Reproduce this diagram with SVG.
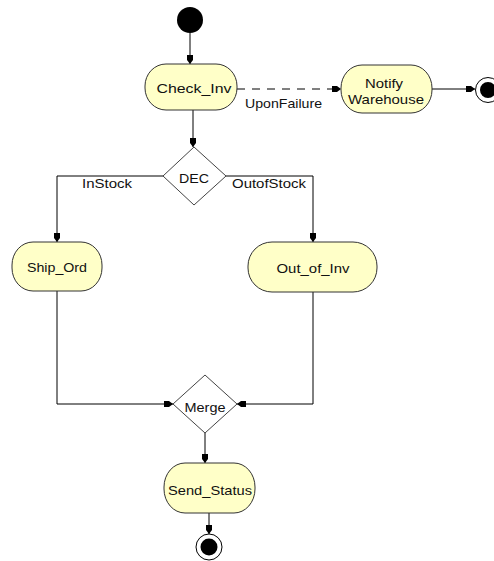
<svg xmlns="http://www.w3.org/2000/svg" width="494" height="561" viewBox="0 0 494 561">
<style>
.act{fill:#FFFFC8;stroke:#333;stroke-width:1}
.dia{fill:#fff;stroke:#444;stroke-width:1}
.t{font-family:"Liberation Sans",Arial,sans-serif;font-size:13px;fill:#111;text-anchor:middle}
.c{fill:none;stroke:#000;stroke-width:1}
</style>
<defs>
<marker id="ah" markerUnits="userSpaceOnUse" markerWidth="12" markerHeight="8" viewBox="-10 -4 10 8" refX="0" refY="0" orient="auto">
<path d="M0,0 L-4,-3 L-9,-3 L-9,3 L-4,3 Z" fill="#000"/>
</marker>
</defs>
<rect width="494" height="561" fill="#fff"/>
<g id="connectors">
<path class="c" d="M190,33 L190,64" marker-end="url(#ah)"/>
<path class="c" d="M237,89 L341,89" stroke-dasharray="8,7" marker-end="url(#ah)"/>
<path class="c" d="M432,89 L475,89" marker-end="url(#ah)"/>
<path class="c" d="M193,110 L193,147" marker-end="url(#ah)"/>
<path class="c" d="M163,176 L57,176 L57,242" marker-end="url(#ah)"/>
<path class="c" d="M226,176 L313,176 L313,242" marker-end="url(#ah)"/>
<path class="c" d="M57,291 L57,404 L173,404" marker-end="url(#ah)"/>
<path class="c" d="M313,292 L313,404 L237,404" marker-end="url(#ah)"/>
<path class="c" d="M205,433 L205,463" marker-end="url(#ah)"/>
<path class="c" d="M209,513 L209,534" marker-end="url(#ah)"/>
<text class="t" x="283.5" y="108" textLength="77" lengthAdjust="spacingAndGlyphs">UponFailure</text>
<text class="t" x="107" y="188" textLength="50" lengthAdjust="spacingAndGlyphs">InStock</text>
<text class="t" x="269" y="188" textLength="74" lengthAdjust="spacingAndGlyphs">OutofStock</text>
</g>
<g id="start"><circle cx="190" cy="20" r="13" fill="#000"/></g>
<g id="Check_Inv">
<rect class="act" x="145" y="64" width="92" height="46" rx="21" ry="22"/>
<text class="t" x="194" y="93" textLength="75" lengthAdjust="spacingAndGlyphs">Check_Inv</text>
</g>
<g id="Notify_Warehouse">
<rect class="act" x="341" y="65" width="91" height="48" rx="21" ry="23"/>
<text class="t" x="384" y="88" textLength="38" lengthAdjust="spacingAndGlyphs">Notify</text>
<text class="t" x="386" y="104" textLength="76" lengthAdjust="spacingAndGlyphs">Warehouse</text>
</g>
<g id="end1">
<circle cx="488" cy="90" r="12.5" fill="#fff" stroke="#000" stroke-width="1"/>
<circle cx="488" cy="90" r="8" fill="#000"/>
</g>
<g id="DEC">
<polygon class="dia" points="194,147 226,176 194,205 163,176"/>
<text class="t" x="194" y="183" textLength="30" lengthAdjust="spacingAndGlyphs">DEC</text>
</g>
<g id="Ship_Ord">
<rect class="act" x="12" y="242" width="90" height="49" rx="21" ry="23"/>
<text class="t" x="57" y="272" textLength="60" lengthAdjust="spacingAndGlyphs">Ship_Ord</text>
</g>
<g id="Out_of_Inv">
<rect class="act" x="248" y="242" width="129" height="50" rx="24" ry="24"/>
<text class="t" x="313" y="273" textLength="73" lengthAdjust="spacingAndGlyphs">Out_of_Inv</text>
</g>
<g id="Merge">
<polygon class="dia" points="205,375 237,404 205,433 173,404"/>
<text class="t" x="205" y="412" textLength="41" lengthAdjust="spacingAndGlyphs">Merge</text>
</g>
<g id="Send_Status">
<rect class="act" x="164" y="463" width="91" height="50" rx="21" ry="24"/>
<text class="t" x="210" y="495" textLength="84" lengthAdjust="spacingAndGlyphs">Send_Status</text>
</g>
<g id="end2">
<circle cx="209" cy="547" r="13" fill="#fff" stroke="#000" stroke-width="1"/>
<circle cx="209" cy="547" r="8.5" fill="#000"/>
</g>
</svg>
